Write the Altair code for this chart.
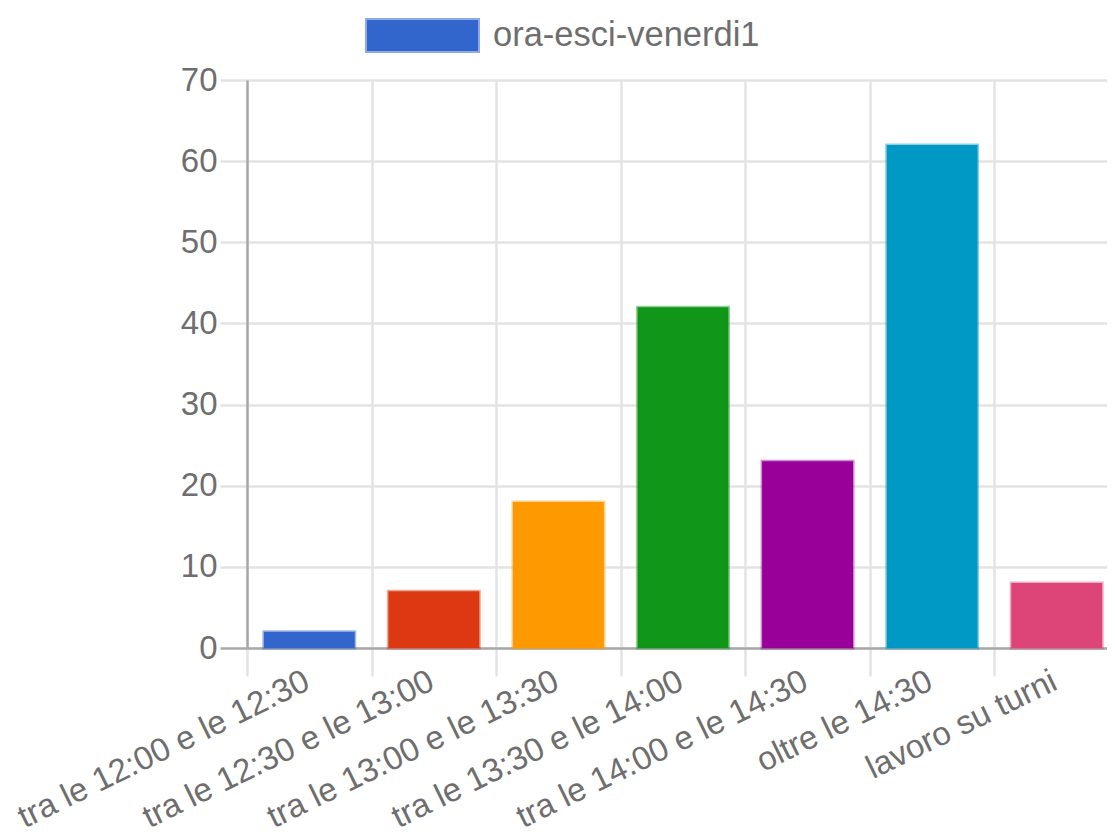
import altair as alt
import pandas as pd

categories = [
    "tra le 12:00 e le 12:30",
    "tra le 12:30 e le 13:00",
    "tra le 13:00 e le 13:30",
    "tra le 13:30 e le 14:00",
    "tra le 14:00 e le 14:30",
    "oltre le 14:30",
    "lavoro su turni",
]
values = [2, 7, 18, 42, 23, 62, 8]
colors = ["#3366cc", "#dc3912", "#ff9900", "#109618", "#990099", "#0099c6", "#dd4477"]
series_name = "ora-esci-venerdi1"
y_ticks = [0, 10, 20, 30, 40, 50, 60, 70]

df = pd.DataFrame({"cat": categories, "val": values})
legend_df = pd.DataFrame({"cat": [categories[0]], "val": [0], "series": [series_name]})

FONT = "Liberation Sans"
TXT = "#6e6e6e"
GRID = "#e3e3e3"
DOMAIN = "#a8a8a8"

x_tick_color = {
    "condition": {"test": "datum.index === 1", "value": DOMAIN},
    "value": GRID,
}
y_tick_color = {
    "condition": {"test": "datum.value === 0", "value": DOMAIN},
    "value": GRID,
}

x_enc = alt.X(
    "cat:N",
    sort=categories,
    scale=alt.Scale(paddingInner=0, paddingOuter=0),
    axis=alt.Axis(
        title=None,
        labelAngle=334,
        labelAlign="right",
        labelBaseline="alphabetic",
        labelOffset=2,
        labelPadding=12,
        labelFontSize=33,
        labelColor=TXT,
        labelFont=FONT,
        labelOverlap=False,
        labelLimit=0,
        tickBand="extent",
        tickSize=28,
        tickColor=x_tick_color,
        tickWidth=2.5,
        grid=True,
        gridColor=GRID,
        gridWidth=2.5,
        domainColor=DOMAIN,
        domainWidth=2.5,
    ),
)

y_enc = alt.Y(
    "val:Q",
    scale=alt.Scale(domain=[0, 70], nice=False),
    axis=alt.Axis(
        title=None,
        values=y_ticks,
        labelFontSize=33,
        labelColor=TXT,
        labelFont=FONT,
        labelPadding=3,
        tickSize=27,
        tickColor=y_tick_color,
        tickWidth=2.5,
        grid=True,
        gridColor=GRID,
        gridWidth=2.5,
        domainColor=DOMAIN,
        domainWidth=2.5,
    ),
)

bars = alt.Chart(df).mark_bar(
    width=alt.RelativeBandSize(0.73),
    strokeWidth=3,
    strokeOpacity=0.45,
).encode(
    x=x_enc,
    y=y_enc,
    color=alt.Color("cat:N", scale=alt.Scale(domain=categories, range=colors), legend=None),
    stroke=alt.Stroke("cat:N", scale=alt.Scale(domain=categories, range=colors), legend=None),
)

legend_layer = alt.Chart(legend_df).mark_bar(width=alt.RelativeBandSize(0.73)).encode(
    x=alt.X("cat:N", sort=categories),
    y=alt.Y("val:Q"),
    color=alt.Color(
        "series:N",
        scale=alt.Scale(domain=[series_name], range=["#3366cc"]),
        legend=alt.Legend(
            title=None,
            orient="none",
            legendX=118,
            legendY=-102,
            symbolType="M-1,-0.292L1,-0.292L1,0.292L-1,0.292Z",
            symbolSize=12769,
            symbolStrokeColor="#8fa8e6",
            symbolStrokeWidth=2,
            symbolOpacity=1,
            labelFontSize=34.5,
            labelColor=TXT,
            labelFont=FONT,
            labelOffset=13,
            labelLimit=0,
            padding=0,
        ),
    ),
)

chart = alt.layer(bars, legend_layer).resolve_scale(color="independent").properties(
    width=872,
    height=568,
    autosize=alt.AutoSizeParams(type="none"),
    padding={"left": 239, "top": 72, "right": -12, "bottom": 183},
).configure_view(stroke=None)

chart.save("out.html", embed_options={"renderer": "svg", "actions": False})
